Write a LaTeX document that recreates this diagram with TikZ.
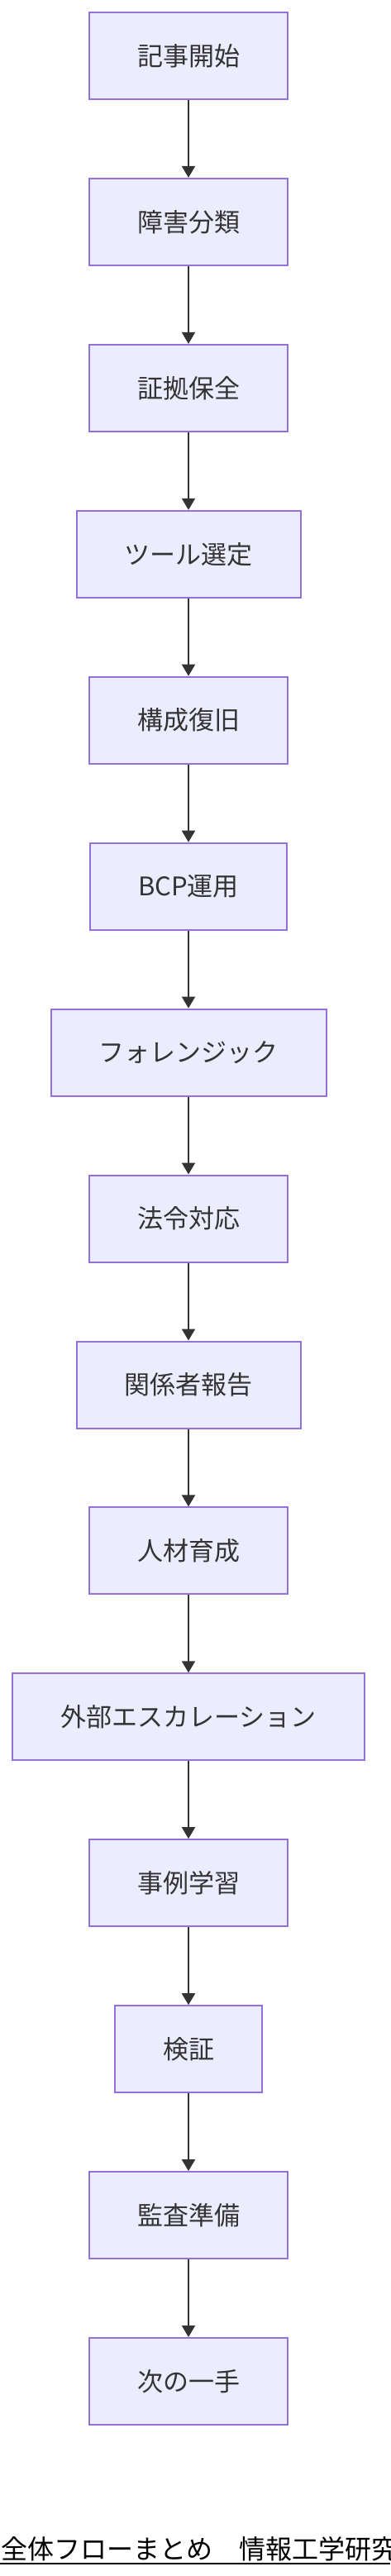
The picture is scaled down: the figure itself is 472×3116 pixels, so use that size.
\documentclass[tikz,border=0pt]{standalone}
\usepackage{fontspec}
\setmainfont{Noto Sans CJK JP}
\usetikzlibrary{arrows.meta}
\definecolor{kasten}{HTML}{ECECFF}
\definecolor{rand}{HTML}{9370DB}
\definecolor{schrift}{HTML}{333333}
\tikzset{
  schritt/.style={rectangle,draw=rand,fill=kasten,line width=2pt,
    inner xsep=58pt,inner ysep=0pt,minimum height=105pt,
    text=schrift,font=\fontsize{31}{37}\selectfont},
  pfeil/.style={draw=schrift,line width=2pt,-{Triangle[length=14pt,width=16pt]}}
}
\begin{document}
\begin{tikzpicture}[x=1pt,y=-1pt]
        % Rahmen
        \useasboundingbox (0,0) rectangle (472,3116);
        \fill [white] (0,0) rectangle (472,3116);
        % Schritte
        \draw (228,  67.5) node[schritt] (start)    {記事開始};
        \draw (228, 268.4) node[schritt] (klass)    {障害分類};
        \draw (228, 469.4) node[schritt] (beweis)   {証拠保全};
        \draw (228, 670.3) node[schritt] (werkzeug) {ツール選定};
        \draw (228, 871.2) node[schritt] (aufbau)   {構成復旧};
        \draw (228,1072.2) node[schritt] (bcp)      {BCP運用};
        \draw (228,1273.1) node[schritt] (forensik) {フォレンジック};
        \draw (228,1474.0) node[schritt] (recht)    {法令対応};
        \draw (228,1675.0) node[schritt] (bericht)  {関係者報告};
        \draw (228,1875.9) node[schritt] (personal) {人材育成};
        \draw (228,2076.8) node[schritt] (eskal)    {外部エスカレーション};
        \draw (228,2277.7) node[schritt] (faelle)   {事例学習};
        \draw (228,2478.7) node[schritt] (pruefung) {検証};
        \draw (228,2679.6) node[schritt] (audit)    {監査準備};
        \draw (228,2880.5) node[schritt] (weiter)   {次の一手};
        % Pfeile
        \draw [pfeil] (start) -- (klass);
        \draw [pfeil] (klass) -- (beweis);
        \draw [pfeil] (beweis) -- (werkzeug);
        \draw [pfeil] (werkzeug) -- (aufbau);
        \draw [pfeil] (aufbau) -- (bcp);
        \draw [pfeil] (bcp) -- (forensik);
        \draw [pfeil] (forensik) -- (recht);
        \draw [pfeil] (recht) -- (bericht);
        \draw [pfeil] (bericht) -- (personal);
        \draw [pfeil] (personal) -- (eskal);
        \draw [pfeil] (eskal) -- (faelle);
        \draw [pfeil] (faelle) -- (pruefung);
        \draw [pfeil] (pruefung) -- (audit);
        \draw [pfeil] (audit) -- (weiter);
        % Titel
        \draw (1.5,3095) node[anchor=base west,inner sep=0pt,font=\fontsize{32}{38}\selectfont] (titel) {全体フローまとめ　情報工学研究};
        \draw [line width=2pt] (0,3101) -- (472,3101);
\end{tikzpicture}
\end{document}
